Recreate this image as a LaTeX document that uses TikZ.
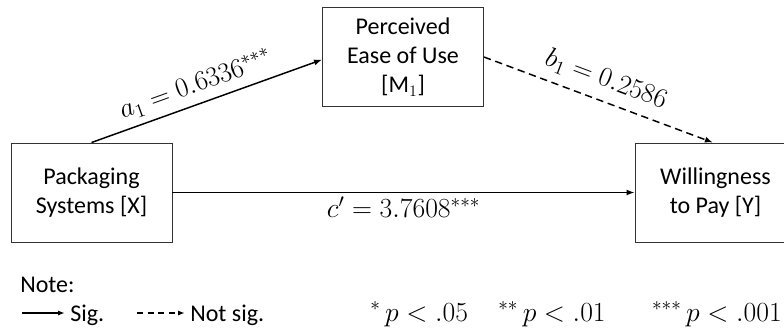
\documentclass[tikz,border=0pt]{standalone}
\usepackage{amsmath}
\usepackage{fontspec}
\setmainfont{Carlito}
\usepackage{tikz}
\usetikzlibrary{arrows.meta, positioning, calc}

\begin{document}
\begin{tikzpicture}[
  x=0.75pt, y=-0.75pt,
  font=\fontsize{18}{22}\selectfont,
  box/.style={rectangle, draw=black!80, line width=0.7pt, align=center,
              minimum width=120.75pt, minimum height=74.25pt, inner sep=2pt},
  arr/.style={-{Latex[length=6pt, width=4.5pt]}, line width=1.1pt},
  dashline/.style={dash pattern=on 5.5pt off 3.5pt},
  legarr/.style={-{Latex[length=5pt, width=3.8pt]}, line width=0.8pt},
  lbl/.style={inner sep=5pt, font=\fontsize{19.5}{23}\selectfont},
  leg/.style={anchor=base west, inner sep=0pt},
  legmath/.style={leg, font=\fontsize{19.5}{23}\selectfont}
]
\useasboundingbox (0,0) rectangle (784,333);
\node[box] (pkg)  at (91.5,192.5) {Packaging\\Systems [X]};
\node[box] (ease) at (403,57)     {Perceived\\Ease of Use\\{[M$_1$]}};
\node[box] (wtp)  at (715.5,192.5) {Willingness\\to Pay [Y]};
\draw[arr] (pkg.north) -- ([yshift=-2pt]ease.west)
  node[lbl, pos=0.48, above, sloped] (lbla) {$a_1 = 0.6336^{***}$};
\draw[arr, dashline] (ease.east) -- ([xshift=-2pt]wtp.north)
  node[lbl, inner sep=7pt, midway, above, sloped] (lblb) {$b_1 = 0.2586$};
\draw[arr] (pkg.east) -- (wtp.west)
  node[lbl, inner sep=3pt, midway, below] (lblc) {$c' = 3.7608^{***}$};
% legend
\node[leg] (note) at (20,292) {Note:};
\coordinate (solid0) at (22,313);
\coordinate (dash0)  at (137,313);
\node[leg] (sig)  at (70,321)  {Sig.};
\node[leg] (nsig) at (190,321) {Not sig.};
\draw[legarr] (solid0) -- ([xshift=-4pt]solid0 -| sig.west);
\draw[legarr, dash pattern=on 4.5pt off 3.5pt] (dash0) -- ([xshift=-4pt]dash0 -| nsig.west);
\node[legmath] (p05)  at (370,321) {$^{*}\,p < .05$};
\node[legmath] (p01)  at (498,321) {$^{**}\,p < .01$};
\node[legmath, anchor=base east] (p001) at (782,321) {$^{***}\,p < .001$};
\end{tikzpicture}
\end{document}
